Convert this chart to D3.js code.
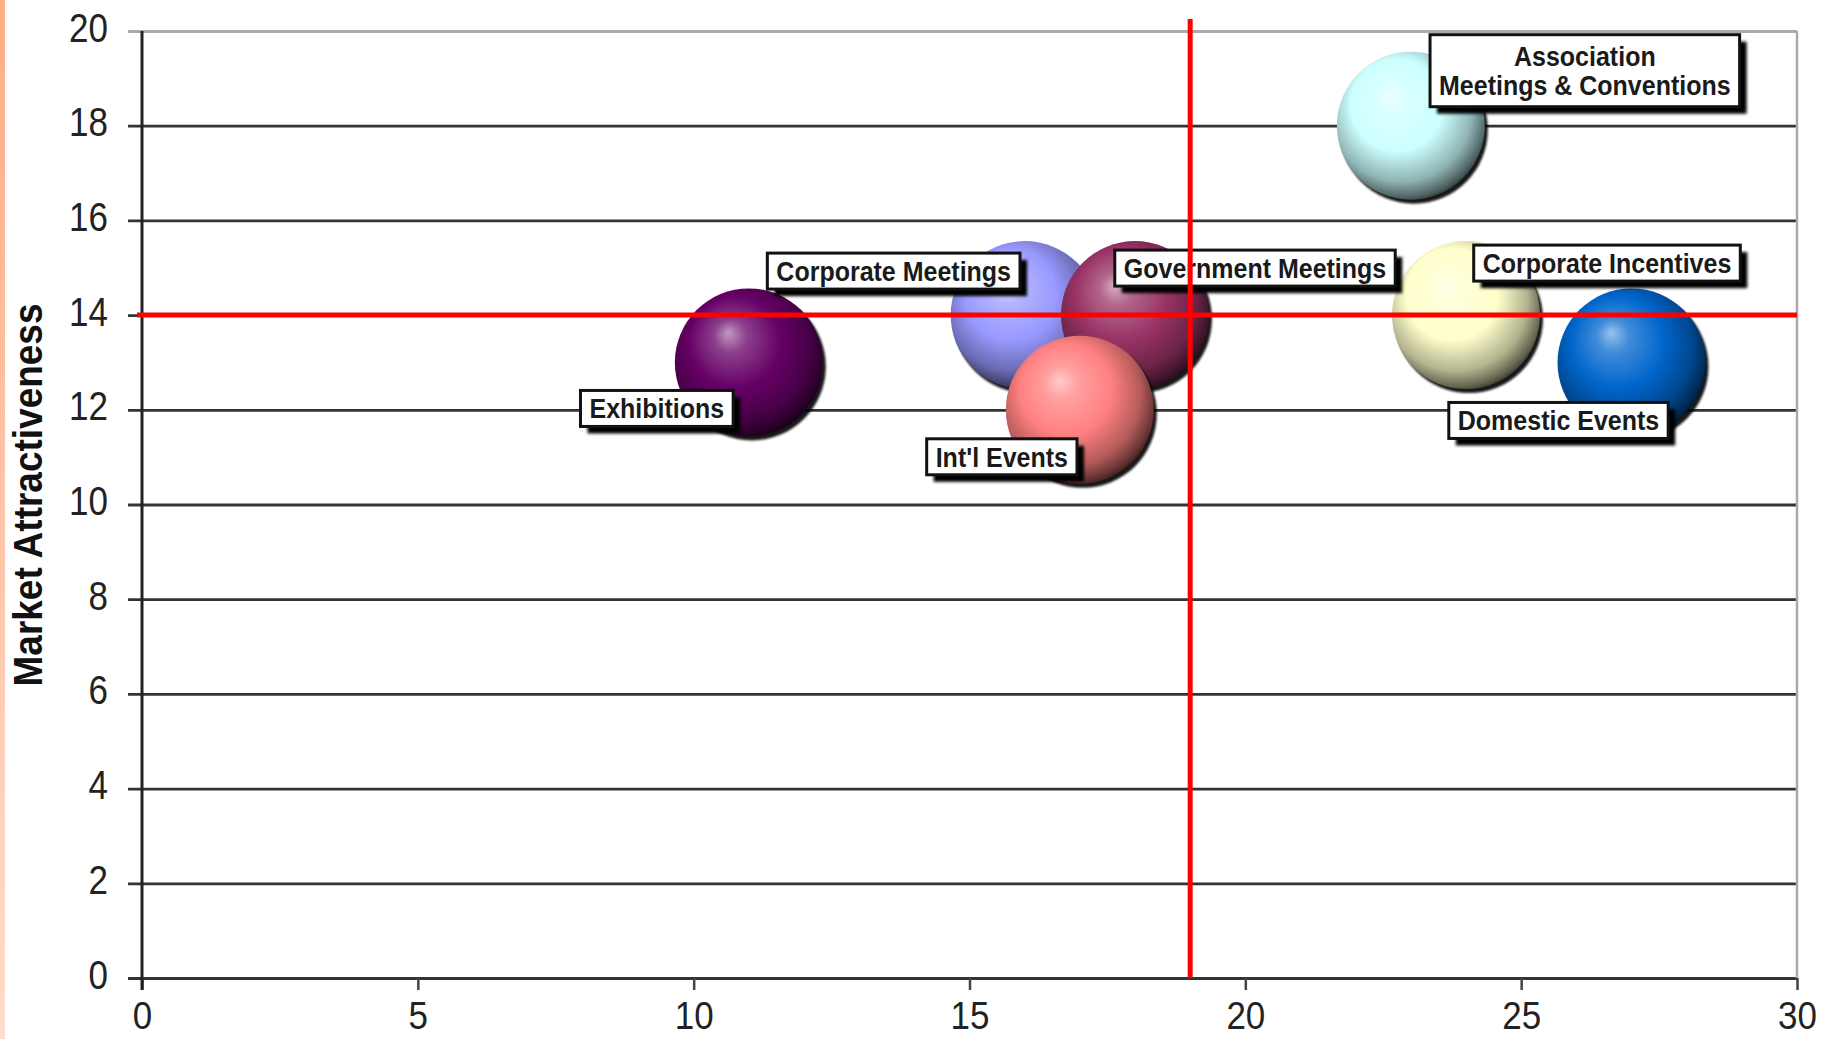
<!DOCTYPE html>
<html><head><meta charset="utf-8">
<script src="https://cdn.jsdelivr.net/npm/d3@7"></script>
<style>html,body{margin:0;padding:0;background:#fff;overflow:hidden}</style>
</head><body><svg id="c" width="1826" height="1039"></svg>
<script>
// ---- data ----
const categories = ["Exhibitions","Corporate Meetings","Government Meetings","Int'l Events","Association Meetings & Conventions","Corporate Incentives","Domestic Events"];
const labelLines = [["Exhibitions"],["Corporate Meetings"],["Government Meetings"],["Int'l Events"],["Association","Meetings & Conventions"],["Corporate Incentives"],["Domestic Events"]];
const xValues = [11,16,18,17,23,24,27];
const yValues = [13,14,14,12,18,14,13];
const sizeValues = [1,1,1,1,1,1,1];
const xTicks = [0,5,10,15,20,25,30];
const yTicks = [0,2,4,6,8,10,12,14,16,18,20];
const xThreshold = 19;
const yThreshold = 14;
const yTitle = "Market Attractiveness";

// ---- styles / layout ----
const colors = ["#660066","#9999ff","#993366","#ff8080","#ccffff","#ffffcc","#0066cc"];
const labelOffsets = [[-92,46],[-131,-44],[120,-47],[-78,47],[174,-55],[141,-52],[-73,58]];

const W = 1826, H = 1039;
const L = 142, R = 1797, T = 31, B = 978;
const svg = d3.select("#c");
svg.append("rect").attr("width",W).attr("height",H).attr("fill","#fff");

const defs = svg.append("defs");
const strip = defs.append("linearGradient").attr("id","strip").attr("x1",0).attr("y1",0).attr("x2",0).attr("y2",1);
strip.append("stop").attr("offset","0%").attr("stop-color","#ffae86");
strip.append("stop").attr("offset","100%").attr("stop-color","#ffdccc");
svg.append("rect").attr("x",0).attr("y",0).attr("width",5).attr("height",H).attr("fill","url(#strip)");

const blur = defs.append("filter").attr("id","blur").attr("x","-20%").attr("y","-20%").attr("width","140%").attr("height","140%");
blur.append("feGaussianBlur").attr("stdDeviation",1.6);
const blur2 = defs.append("filter").attr("id","blur2").attr("x","-20%").attr("y","-20%").attr("width","140%").attr("height","140%");
blur2.append("feGaussianBlur").attr("stdDeviation",1.2);

const x = d3.scaleLinear().domain([0,30]).range([L,R]);
const y = d3.scaleLinear().domain([0,20]).range([B,T]);
const r = d3.scaleSqrt().domain([0,1]).range([0,74]);

// grid + y axis
const yAxis = svg.append("g").attr("transform",`translate(${L},0)`)
  .call(d3.axisLeft(y).tickValues(yTicks).tickSize(-(R-L)).tickSizeOuter(0));
yAxis.select(".domain").remove();
yAxis.selectAll(".tick line").attr("x1",-14).attr("x2",R-L)
  .attr("stroke",d=>d===20?"#aaaaaa":"#333").attr("stroke-width",2.8);
yAxis.selectAll(".tick text").text(null);
yAxis.selectAll(".tick").append("text")
  .attr("transform","translate(-34,10) scale(1,1.18)")
  .attr("text-anchor","end").attr("fill","#222")
  .style("font-family","'Liberation Sans',Arial,sans-serif").style("font-size","35px")
  .text(d=>d);

// x axis
const xAxis = svg.append("g").attr("transform",`translate(0,${B})`)
  .call(d3.axisBottom(x).tickValues(xTicks).tickSize(12).tickSizeOuter(0));
xAxis.select(".domain").attr("stroke","#333").attr("stroke-width",3);
xAxis.selectAll(".tick line").attr("stroke","#444").attr("stroke-width",2.5);
xAxis.selectAll(".tick text").text(null);
xAxis.selectAll(".tick").append("text")
  .attr("transform","translate(0,51) scale(1,1.12)")
  .attr("text-anchor","middle").attr("fill","#222")
  .style("font-family","'Liberation Sans',Arial,sans-serif").style("font-size","35px")
  .text(d=>d);

// plot borders
svg.append("line").attr("x1",R).attr("x2",R).attr("y1",T).attr("y2",B).attr("stroke","#aaa").attr("stroke-width",2.5);
svg.append("line").attr("x1",L).attr("x2",L).attr("y1",T).attr("y2",B+12).attr("stroke","#222").attr("stroke-width",3);

// y title
svg.append("text")
  .attr("transform","translate(42,495) rotate(-90) scale(1,1.1)")
  .attr("text-anchor","middle").attr("fill","#111")
  .style("font-family","'Liberation Sans',Arial,sans-serif").style("font-size","37px").style("font-weight","bold")
  .text(yTitle);

// bubble gradients
function mix(c, t, k){ const a=d3.rgb(c), b=d3.rgb(t); return d3.rgb(a.r+(b.r-a.r)*k, a.g+(b.g-a.g)*k, a.b+(b.b-a.b)*k).formatHex(); }
colors.forEach((c,i)=>{
  const g = defs.append("radialGradient").attr("id","g"+i)
    .attr("cx","45%").attr("cy","42%").attr("r","62%").attr("fx","36%").attr("fy","30%");
  g.append("stop").attr("offset","0%").attr("stop-color",mix(c,"#fff",0.6));
  g.append("stop").attr("offset","18%").attr("stop-color",mix(c,"#fff",0.25));
  g.append("stop").attr("offset","50%").attr("stop-color",c);
  g.append("stop").attr("offset","78%").attr("stop-color",mix(c,"#000",0.3));
  g.append("stop").attr("offset","92%").attr("stop-color",mix(c,"#000",0.6));
  g.append("stop").attr("offset","100%").attr("stop-color",mix(c,"#000",0.85));
});

const data = categories.map((c,i)=>({c,i,x:xValues[i],y:yValues[i],s:sizeValues[i],lines:labelLines[i]}));
const bub = svg.append("g");
data.forEach(d=>{
  const g = bub.append("g");
  g.append("circle").attr("cx",x(d.x)+3).attr("cy",y(d.y)+4).attr("r",r(d.s)).attr("fill","#000").attr("filter","url(#blur2)").attr("opacity",0.9);
  g.append("circle").attr("cx",x(d.x)).attr("cy",y(d.y)).attr("r",r(d.s)).attr("fill",`url(#g${d.i})`);
});

// labels
const lab = svg.append("g");
data.forEach(d=>{
  const [dx,dy] = labelOffsets[d.i];
  const cx = x(d.x)+dx, cy = y(d.y)+dy;
  const g = lab.append("g").attr("transform",`translate(${cx},${cy})`);
  const n = d.lines.length;
  const lh = 29;
  const texts = d.lines.map((t,k)=>g.append("text")
    .attr("transform",`translate(0,${(k-(n-1)/2)*lh+10}) scale(1,1.12)`)
    .attr("text-anchor","middle").attr("fill","#1a1a1a")
    .style("font-family","'Liberation Sans',Arial,sans-serif").style("font-size","25px").style("font-weight","bold")
    .text(t));
  const w = d3.max(texts,t=>t.node().getComputedTextLength())+18;
  const h = n===1?36:72;
  g.insert("rect","text").attr("x",-w/2+7).attr("y",-h/2+7).attr("width",w).attr("height",h).attr("fill","#000").attr("filter","url(#blur)");
  g.insert("rect","text").attr("x",-w/2).attr("y",-h/2).attr("width",w).attr("height",h).attr("fill","#fff").attr("stroke","#111").attr("stroke-width",3);
});

// threshold lines
svg.append("line").attr("x1",L-5).attr("x2",R).attr("y1",y(yThreshold)).attr("y2",y(yThreshold)).attr("stroke","#ff0000").attr("stroke-width",5);
svg.append("line").attr("x1",x(xThreshold)).attr("x2",x(xThreshold)).attr("y1",19).attr("y2",B).attr("stroke","#ff0000").attr("stroke-width",5);
</script></body></html>
